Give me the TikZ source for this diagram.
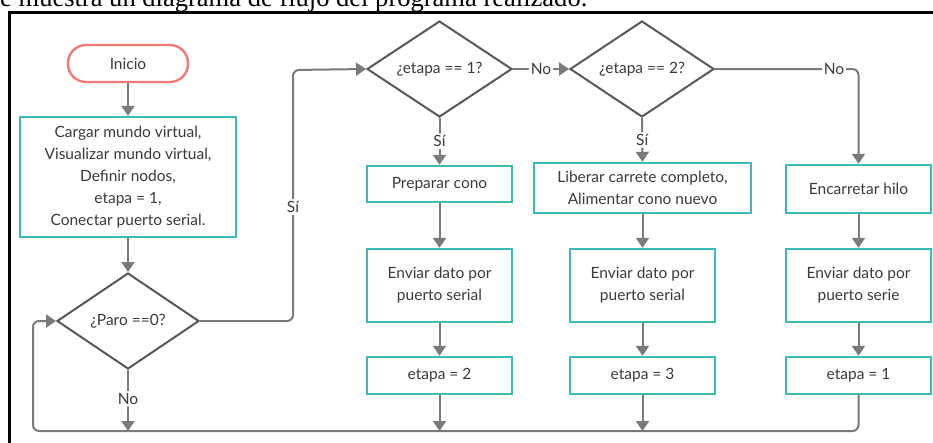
\documentclass[tikz,border=0pt]{standalone}
\usepackage{fontspec}
\setmainfont{Lato}
\newfontfamily\capserif{Liberation Serif}
\usetikzlibrary{shapes.geometric,arrows.meta}
\definecolor{teal1}{HTML}{3CB9B9}
\definecolor{red1}{HTML}{F07A7A}
\definecolor{line1}{HTML}{7A7A7A}
\definecolor{dia1}{HTML}{585858}
\definecolor{txt1}{HTML}{3A3A3A}
\tikzset{
  base/.style={font=\fontsize{15.5}{22}\selectfont, text=txt1, align=center, inner sep=0pt},
  startbox/.style={base, draw=red1, line width=2.4pt, rounded corners=18pt, minimum width=120pt, minimum height=37pt},
  procbox/.style={base, draw=teal1, line width=2.4pt, minimum width=145pt},
  decis/.style={base, shape=diamond, draw=dia1, line width=2pt, minimum width=145pt, minimum height=96pt, aspect=1.5},
  conn/.style={draw=line1, line width=2pt, rounded corners=6pt},
  arr/.style={conn, -{Triangle[length=10pt,width=13pt]}},
  lbl/.style={base, fill=white, inner sep=2pt}
}
\begin{document}
\begin{tikzpicture}[x=1pt,y=-1pt]
\useasboundingbox (0,0) rectangle (933,442);
\clip (0,0) rectangle (933,442);
% caption line (cut off at the top edge)
\node[anchor=base west, inner sep=0pt] (cap) at (0,6.5) {\resizebox{587pt}{!}{\capserif e muestra un diagrama de flujo del programa realizado.}};
% frame
\draw[line width=3pt] (9.5,450) -- (9.5,12.5) -- (945,12.5);
% nodes
\node[startbox] (ini) at (128,63.5) {Inicio};
\node[procbox, minimum width=216pt, minimum height=120pt] (carg) at (128,177) {Cargar mundo virtual,\\Visualizar mundo virtual,\\Definir nodos,\\etapa = 1,\\Conectar puerto serial.};
\node[decis, minimum width=142pt] (paro) at (128,321) {¿Paro ==0?};
\node[decis] (d1) at (439.5,69) {¿etapa == 1?};
\node[decis, minimum width=144pt] (d2) at (642,69) {¿etapa == 2?};
\node[procbox, minimum height=36pt] (prep) at (439.5,184) {Preparar cono};
\node[procbox, minimum height=73pt] (env1) at (439.5,285.5) {Enviar dato por\\puerto serial};
\node[procbox, minimum height=37pt] (et2) at (439.5,375.5) {etapa = 2};
\node[procbox, minimum width=217pt, minimum height=50pt] (lib) at (642.5,188) {Liberar carrete completo,\\Alimentar cono nuevo};
\node[procbox, minimum height=73pt] (env2) at (642.5,285.5) {Enviar dato por\\puerto serial};
\node[procbox, minimum height=37pt] (et3) at (642.5,375.5) {etapa = 3};
\node[procbox, minimum height=48pt] (enc) at (858.5,189) {Encarretar hilo};
\node[procbox, minimum height=73pt] (env3) at (858.5,285.5) {Enviar dato por\\puerto serie};
\node[procbox, minimum height=37pt] (et1) at (858.5,375.5) {etapa = 1};
% coordinates
\coordinate (b1) at (128,431);
\coordinate (b2) at (439.5,431);
\coordinate (b3) at (642.5,431);
\coordinate (bl) at (33,431);
\coordinate (br) at (858.5,431);
\coordinate (sy) at (293,321);
\coordinate (sy2) at (293,70);
\coordinate (nr) at (858.5,69);
% connectors
\draw[arr] (ini) -- (carg);
\draw[arr] (carg) -- (paro);
\draw[arr] (paro.east) -- (sy) -- (sy2) -- (d1.west);
\draw[arr] (d1.south) -- node[lbl]{Sí} (prep.north);
\draw[arr] (prep) -- (env1);
\draw[arr] (env1) -- (et2);
\draw[arr] (et2) -- (b2);
\draw[arr] (d1.east) -- node[lbl]{No} (d2.west);
\draw[arr] (d2.south) -- node[lbl]{Sí} (lib.north);
\draw[arr] (lib) -- (env2);
\draw[arr] (env2) -- (et3);
\draw[arr] (et3) -- (b3);
\draw[arr] (d2.east) -- (nr) -- (enc.north);
\draw[arr] (enc) -- (env3);
\draw[arr] (env3) -- (et1);
\draw[arr] (paro.south) -- node[lbl, pos=0.47]{No} (b1);
\draw[arr] (et1.south) -- (br) -- (bl) -- (33,321) -- (paro.west);
% labels on bent lines
\node[lbl] (lsi) at (293,207) {Sí};
\node[lbl] (lno) at (834,69) {No};
\end{tikzpicture}
\end{document}
